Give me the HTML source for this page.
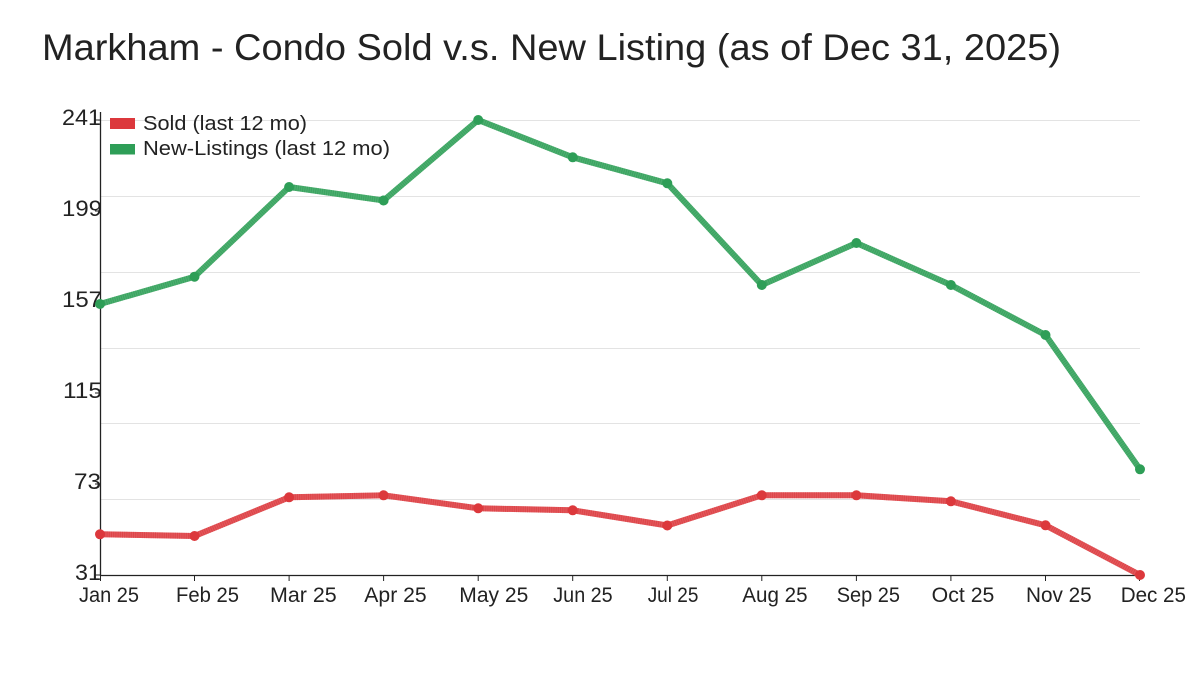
<!DOCTYPE html>
<html>
<head>
<meta charset="utf-8">
<style>
  html, body { margin: 0; padding: 0; background: #ffffff; }
  body { width: 1200px; height: 675px; overflow: hidden; }
  svg { display: block; }
  text { font-family: "Liberation Sans", "DejaVu Sans", sans-serif; fill: #222222; }
</style>
</head>
<body>
<svg width="1200" height="675" viewBox="0 0 1200 675" xmlns="http://www.w3.org/2000/svg">
  <rect x="0" y="0" width="1200" height="675" fill="#ffffff"/>

  <!-- Title -->
  <text x="42" y="60" font-size="37" textLength="1019" lengthAdjust="spacingAndGlyphs" fill="#1e1e1e">Markham - Condo Sold v.s. New Listing (as of Dec 31, 2025)</text>

  <!-- Gridlines -->
  <g stroke="#e3e3e3" stroke-width="1">
    <line x1="98" y1="120.5" x2="1140" y2="120.5"/>
    <line x1="100" y1="196.5" x2="1140" y2="196.5"/>
    <line x1="100" y1="272.5" x2="1140" y2="272.5"/>
    <line x1="100" y1="348.5" x2="1140" y2="348.5"/>
    <line x1="100" y1="423.5" x2="1140" y2="423.5"/>
    <line x1="100" y1="499.5" x2="1140" y2="499.5"/>
  </g>

  <!-- Axes -->
  <g stroke="#222222" stroke-width="1.3">
    <line x1="100.5" y1="112" x2="100.5" y2="576"/>
    <line x1="100" y1="575.5" x2="1141" y2="575.5"/>
  </g>
  <!-- y ticks -->
  <g stroke="#222222" stroke-width="1">
    <line x1="95" y1="120" x2="100" y2="120"/>
    <line x1="95" y1="211" x2="100" y2="211"/>
    <line x1="95" y1="302" x2="100" y2="302"/>
    <line x1="95" y1="393" x2="100" y2="393"/>
    <line x1="95" y1="484" x2="100" y2="484"/>
    <line x1="95" y1="575" x2="100" y2="575"/>
  </g>
  <!-- x ticks -->
  <g stroke="#222222" stroke-width="1">
    <line x1="100.5" y1="575" x2="100.5" y2="581"/>
    <line x1="194.5" y1="575" x2="194.5" y2="581"/>
    <line x1="289.1" y1="575" x2="289.1" y2="581"/>
    <line x1="383.6" y1="575" x2="383.6" y2="581"/>
    <line x1="478.2" y1="575" x2="478.2" y2="581"/>
    <line x1="572.7" y1="575" x2="572.7" y2="581"/>
    <line x1="667.3" y1="575" x2="667.3" y2="581"/>
    <line x1="761.8" y1="575" x2="761.8" y2="581"/>
    <line x1="856.4" y1="575" x2="856.4" y2="581"/>
    <line x1="950.9" y1="575" x2="950.9" y2="581"/>
    <line x1="1045.5" y1="575" x2="1045.5" y2="581"/>
    <line x1="1139.5" y1="575" x2="1139.5" y2="581"/>
  </g>

  <!-- Y labels -->
  <g font-size="22" text-anchor="end">
    <text x="101" y="125" textLength="39" lengthAdjust="spacingAndGlyphs">241</text>
    <text x="102" y="216" textLength="40" lengthAdjust="spacingAndGlyphs">199</text>
    <text x="102" y="307" textLength="40" lengthAdjust="spacingAndGlyphs">157</text>
    <text x="102" y="398" textLength="39" lengthAdjust="spacingAndGlyphs">115</text>
    <text x="101" y="489" textLength="27" lengthAdjust="spacingAndGlyphs">73</text>
    <text x="101" y="580" textLength="26" lengthAdjust="spacingAndGlyphs">31</text>
  </g>

  <!-- X labels -->
  <g font-size="21">
    <text x="79" y="602" textLength="60" lengthAdjust="spacingAndGlyphs">Jan 25</text>
    <text x="176" y="602" textLength="63" lengthAdjust="spacingAndGlyphs">Feb 25</text>
    <text x="270" y="602" textLength="66.7" lengthAdjust="spacingAndGlyphs">Mar 25</text>
    <text x="364.3" y="602" textLength="62.4" lengthAdjust="spacingAndGlyphs">Apr 25</text>
    <text x="459.3" y="602" textLength="69" lengthAdjust="spacingAndGlyphs">May 25</text>
    <text x="553.3" y="602" textLength="59.4" lengthAdjust="spacingAndGlyphs">Jun 25</text>
    <text x="647.7" y="602" textLength="50.7" lengthAdjust="spacingAndGlyphs">Jul 25</text>
    <text x="742.3" y="602" textLength="65.3" lengthAdjust="spacingAndGlyphs">Aug 25</text>
    <text x="836.7" y="602" textLength="63.3" lengthAdjust="spacingAndGlyphs">Sep 25</text>
    <text x="931.7" y="602" textLength="62.7" lengthAdjust="spacingAndGlyphs">Oct 25</text>
    <text x="1026" y="602" textLength="65.7" lengthAdjust="spacingAndGlyphs">Nov 25</text>
    <text x="1120.7" y="602" textLength="65.3" lengthAdjust="spacingAndGlyphs">Dec 25</text>
  </g>

  <!-- Green series (New Listings) -->
  <polyline fill="none" stroke="#4cae6f" stroke-width="6" stroke-linejoin="round" stroke-linecap="round"
    points="100,304 194.5,276.7 289.1,187 383.6,200.5 478.2,120 572.7,157.3 667.3,183.3 761.8,285 856.4,243 950.9,285 1045.5,335 1140,469.3"/>
  <polyline fill="none" stroke="#2e9b55" stroke-width="6" stroke-opacity="0.55" stroke-dasharray="1 1.2"
    points="100,304 194.5,276.7 289.1,187 383.6,200.5 478.2,120 572.7,157.3 667.3,183.3 761.8,285 856.4,243 950.9,285 1045.5,335 1140,469.3"/>
  <g fill="#2e9e57">
    <circle cx="100" cy="304" r="5"/>
    <circle cx="194.5" cy="276.7" r="5"/>
    <circle cx="289.1" cy="187" r="5"/>
    <circle cx="383.6" cy="200.5" r="5"/>
    <circle cx="478.2" cy="120" r="5"/>
    <circle cx="572.7" cy="157.3" r="5"/>
    <circle cx="667.3" cy="183.3" r="5"/>
    <circle cx="761.8" cy="285" r="5"/>
    <circle cx="856.4" cy="243" r="5"/>
    <circle cx="950.9" cy="285" r="5"/>
    <circle cx="1045.5" cy="335" r="5"/>
    <circle cx="1140" cy="469.3" r="5"/>
  </g>

  <!-- Red series (Sold) -->
  <polyline fill="none" stroke="#e2575b" stroke-width="6" stroke-linejoin="round" stroke-linecap="round"
    points="100,534.3 194.5,536 289.1,497.3 383.6,495.3 478.2,508.3 572.7,510.3 667.3,525.5 761.8,495.3 856.4,495.3 950.9,501.3 1045.5,525.3 1140,575"/>
  <polyline fill="none" stroke="#d9373b" stroke-width="6" stroke-opacity="0.55" stroke-dasharray="1 1.2"
    points="100,534.3 194.5,536 289.1,497.3 383.6,495.3 478.2,508.3 572.7,510.3 667.3,525.5 761.8,495.3 856.4,495.3 950.9,501.3 1045.5,525.3 1140,575"/>
  <g fill="#dc383c">
    <circle cx="100" cy="534.3" r="5"/>
    <circle cx="194.5" cy="536" r="5"/>
    <circle cx="289.1" cy="497.3" r="5"/>
    <circle cx="383.6" cy="495.3" r="5"/>
    <circle cx="478.2" cy="508.3" r="5"/>
    <circle cx="572.7" cy="510.3" r="5"/>
    <circle cx="667.3" cy="525.5" r="5"/>
    <circle cx="761.8" cy="495.3" r="5"/>
    <circle cx="856.4" cy="495.3" r="5"/>
    <circle cx="950.9" cy="501.3" r="5"/>
    <circle cx="1045.5" cy="525.3" r="5"/>
    <circle cx="1140" cy="575" r="5"/>
  </g>

  <!-- Legend -->
  <rect x="110" y="118" width="25" height="11" fill="#dc383c"/>
  <rect x="110" y="144" width="25" height="10.5" fill="#2e9e57"/>
  <g font-size="20">
    <text x="143" y="130" textLength="164" lengthAdjust="spacingAndGlyphs">Sold (last 12 mo)</text>
    <text x="143" y="155" textLength="247" lengthAdjust="spacingAndGlyphs">New-Listings (last 12 mo)</text>
  </g>
</svg>
</body>
</html>
